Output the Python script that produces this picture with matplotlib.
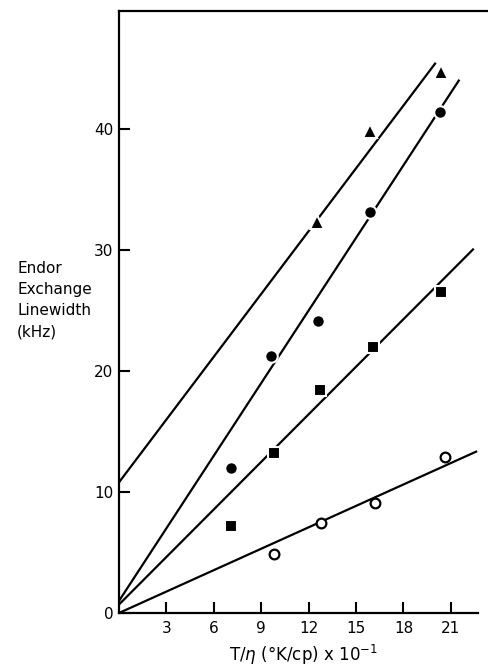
import matplotlib.pyplot as plt
import numpy as np

# Triangles
tri_x = [12.5, 15.9, 20.4]
tri_y = [32.3, 39.8, 44.7]
# Filled circles
dot_x = [7.1, 9.6, 12.6, 15.9, 20.3]
dot_y = [12.0, 21.2, 24.1, 33.1, 41.4]
# Squares
sq_x = [7.1, 9.8, 12.7, 16.1, 20.4]
sq_y = [7.2, 13.2, 18.4, 22.0, 26.5]
# Open circles
oc_x = [9.8, 12.8, 16.2, 20.6]
oc_y = [4.9, 7.4, 9.1, 12.9]

# fitted lines: intercept, slope, x end
tri_fit = (10.8, 1.73, 20.0)
dot_fit = (1.0, 2.0, 21.5)
sq_fit = (0.7, 1.31, 22.4)
oc_fit = (0.0, 0.59, 22.6)

xticks = [3, 6, 9, 12, 15, 18, 21]
yticks = [0, 10, 20, 30, 40]

plt.rcParams["font.family"] = "DejaVu Sans"

fig = plt.figure(figsize=(4.88, 6.67), dpi=100)
ax = fig.add_axes([0.2439, 0.081, 0.7561, 0.9025])

for b, m, xe in [tri_fit, dot_fit, sq_fit, oc_fit]:
    xs = np.array([0, xe])
    ax.plot(xs, b + m * xs, color="black", lw=1.6, zorder=2)

mk = dict(linestyle="none", color="black", markeredgecolor="white", zorder=3)
ax.plot(tri_x, tri_y, marker="^", markersize=10.5, markeredgewidth=1.5, **mk)
ax.plot(dot_x, dot_y, marker="o", markersize=9, markeredgewidth=1.5, **mk)
ax.plot(sq_x, sq_y, marker="s", markersize=8, markeredgewidth=1.5, **mk)
ax.plot(oc_x, oc_y, marker="o", markersize=7, markerfacecolor="white",
        markeredgecolor="black", markeredgewidth=1.6, linestyle="none", zorder=3)

ax.set_xlim(0, 23.35)
ax.set_ylim(0, 49.75)
ax.spines["right"].set_visible(False)
for s in ["left", "bottom", "top"]:
    ax.spines[s].set_linewidth(1.6)
ax.spines["bottom"].set_bounds(0, 22.7)

ax.set_xticks(xticks)
ax.set_yticks(yticks)
ax.tick_params(direction="in", length=8, width=1.5, labelsize=11, pad=6)
ax.tick_params(axis="y", pad=4)

ax.set_xlabel("T/$\\eta$ (°K/cp) x 10$^{-1}$", fontsize=12, labelpad=5)
fig.text(0.035, 0.608, "Endor\nExchange\nLinewidth\n(kHz)", fontsize=11,
         ha="left", va="top", linespacing=1.5)

fig.savefig("out.png", dpi=100)
